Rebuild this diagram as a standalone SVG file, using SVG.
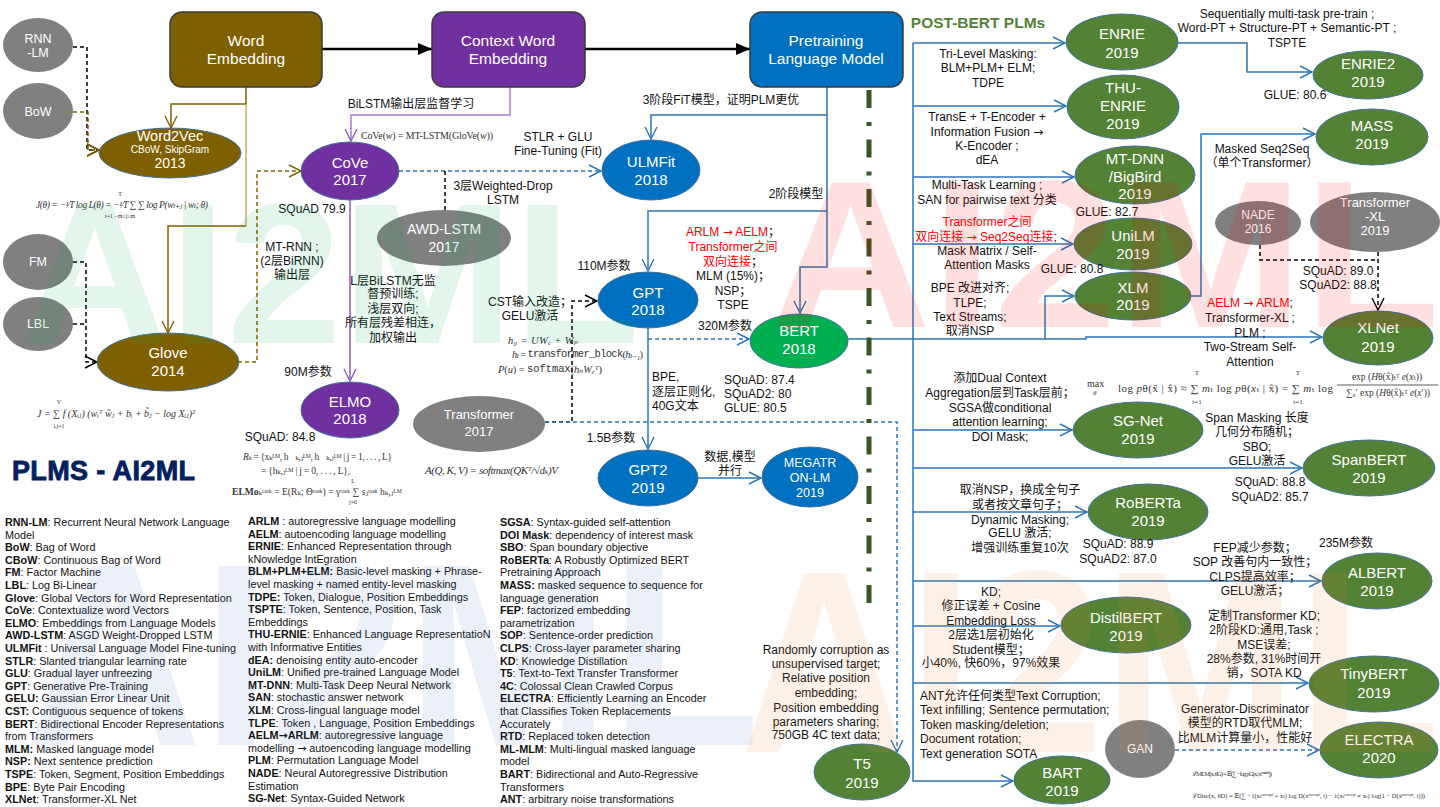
<svg xmlns="http://www.w3.org/2000/svg" width="1440" height="807" viewBox="0 0 1440 807">
<defs>
<style>
text{font-family:"Liberation Sans","Noto Sans CJK SC",sans-serif;}
.c{text-anchor:middle;dominant-baseline:central;}
.s{dominant-baseline:central;}
.hd{font-size:15.5px;fill:#fff;}
.n{font-size:15px;fill:#fff;}
.ns{font-size:12.5px;fill:#fff;}
.a{font-size:12px;fill:#111;}
.r{fill:#FF0000;}
.ar{font-family:"DejaVu Sans",sans-serif;}
.lg{font-size:10.8px;fill:#111;dominant-baseline:central;}
.b{font-weight:bold;}
.f{font-family:"Liberation Serif","DejaVu Serif",serif;fill:#333;}
.wm{font-weight:bold;font-family:"Liberation Sans",sans-serif;}
.gr{fill:#808080;}
.gn{fill:#548235;stroke:#41719C;stroke-width:1;}
.bl{fill:#0070C0;stroke:#41719C;stroke-width:1;}
.pu{fill:#7030A0;stroke:#41719C;stroke-width:1;}
.br{fill:#7F6000;stroke:#41719C;stroke-width:1;}
.bt{fill:#00B050;stroke:#41719C;stroke-width:1;}
.box{stroke:#3A3A3A;stroke-width:1.5;}
.ln{fill:none;stroke-width:1.5;}
.lb{stroke:#2E75B6;}
.dash{stroke-dasharray:4 3;}
</style>
<marker id="mb" markerUnits="userSpaceOnUse" markerWidth="14" markerHeight="14" refX="12" refY="6" orient="auto" overflow="visible"><path d="M0,0 L12,6 L0,12" fill="none" stroke="#2E75B6" stroke-width="1.4"/></marker>
<marker id="mp" markerUnits="userSpaceOnUse" markerWidth="14" markerHeight="14" refX="12" refY="6" orient="auto" overflow="visible"><path d="M0,0 L12,6 L0,12" fill="none" stroke="#8E5CC8" stroke-width="1.4"/></marker>
<marker id="mr" markerUnits="userSpaceOnUse" markerWidth="14" markerHeight="14" refX="12" refY="6" orient="auto" overflow="visible"><path d="M0,0 L12,6 L0,12" fill="none" stroke="#7F6000" stroke-width="1.4"/></marker>
<marker id="mk" markerUnits="userSpaceOnUse" markerWidth="14" markerHeight="14" refX="12" refY="6" orient="auto" overflow="visible"><path d="M0,0 L12,6 L0,12" fill="none" stroke="#000" stroke-width="1.4"/></marker>
<marker id="ab" markerUnits="userSpaceOnUse" markerWidth="16" markerHeight="12" refX="14" refY="6" orient="auto" overflow="visible"><path d="M0,0 L14,6 L0,12 Z" fill="#000"/></marker>
</defs>
<rect width="1440" height="807" fill="#fff"/>

<g id="connectors">
<line x1="322" y1="49" x2="432" y2="49" stroke="#000" stroke-width="2.5" marker-end="url(#ab)"/>
<line x1="585" y1="49" x2="750" y2="49" stroke="#000" stroke-width="2.5" marker-end="url(#ab)"/>
<path class="ln dash" stroke="#000" d="M73,47 H87 V150 H99" marker-end="url(#mk)"/>
<path class="ln dash" stroke="#7F6000" d="M73,112 H88 V150 H99" marker-end="url(#mr)"/>
<path class="ln dash" stroke="#000" d="M73,262 H86 V362 H97" marker-end="url(#mk)"/>
<path class="ln dash" stroke="#000" d="M73,324 H86"/>
<path class="ln" stroke="#7F6000" d="M246,87 V104 H171 V128" marker-end="url(#mr)"/>
<path class="ln" stroke="#C4AC72" d="M246,104 V226"/>
<path class="ln" stroke="#7F6000" d="M246,226 H168 V333" marker-end="url(#mr)"/>
<path class="ln dash" stroke="#7F6000" d="M238,362 H257 V171 H301" marker-end="url(#mr)"/>
<path class="ln" stroke="#A67DD6" d="M510,87 V115 H351 V141" marker-end="url(#mp)"/>
<path class="ln" stroke="#8E5CC8" d="M350,200 V381" marker-end="url(#mp)"/>
<path class="ln lb dash" d="M399,171 H601" marker-end="url(#mb)"/>
<path class="ln dash" stroke="#000" d="M445,210 V171"/>
<path class="ln lb" d="M827,87 V267 H800 V313" marker-end="url(#mb)"/>
<path class="ln lb" d="M827,115 H651 V139" marker-end="url(#mb)"/>
<path class="ln lb" d="M827,211 H648 V271" marker-end="url(#mb)"/>
<path class="ln lb" d="M648,328 V449" marker-end="url(#mb)"/>
<path class="ln lb dash" d="M648,339 H749" marker-end="url(#mb)"/>
<path class="ln dash" stroke="#000" d="M545,422 H572 V301 H597" marker-end="url(#mk)"/>
<path class="ln lb dash" d="M545,422 H897 V752" marker-end="url(#mb)"/>
<path class="ln lb" d="M698,478 H761" marker-end="url(#mb)"/>
<path class="ln lb" stroke-width="2" d="M848,339 H1045 V296 H1074" marker-end="url(#mb)"/>
<path class="ln lb" stroke-width="2" d="M913,43 V781 H1013" marker-end="url(#mb)"/>
<path class="ln lb" d="M913,43 H1065" marker-end="url(#mb)"/>
<path class="ln lb" d="M913,106 H1066" marker-end="url(#mb)"/>
<path class="ln lb" d="M913,177 H1074" marker-end="url(#mb)"/>
<path class="ln lb" d="M913,244 H1073" marker-end="url(#mb)"/>
<path class="ln lb" d="M913,430 H1072" marker-end="url(#mb)"/>
<path class="ln lb" d="M913,468 H1302" marker-end="url(#mb)"/>
<path class="ln lb" d="M913,512 H1087" marker-end="url(#mb)"/>
<path class="ln lb" d="M913,581 H1321" marker-end="url(#mb)"/>
<path class="ln lb" d="M913,626 H1060" marker-end="url(#mb)"/>
<path class="ln lb" d="M913,683 H1308" marker-end="url(#mb)"/>
<path class="ln lb" d="M1045,339 H1086 V337 H1322" marker-end="url(#mb)"/>
<path class="ln lb" d="M1190,296 H1201 V134 H1315" marker-end="url(#mb)"/>
<path class="ln lb" d="M1178,43 H1247 V72 H1312" marker-end="url(#mb)"/>
<path class="ln dash" stroke="#000" d="M1260,245 V260 H1378"/>
<path class="ln dash" stroke="#000" d="M1378,252 V310" marker-end="url(#mk)"/>
<path class="ln lb dash" d="M1175,750 H1319" marker-end="url(#mb)"/>
<path d="M869,90 V603" fill="none" stroke="#375623" stroke-width="5" stroke-dasharray="18 14 4 13.5"/>
</g>

<g id="word-embedding"><rect class="box" x="170" y="12" width="152" height="75" rx="12" fill="#7F6000"/><text class="c hd" x="246" y="40">Word</text><text class="c hd" x="246" y="58">Embedding</text></g>
<g id="context-word-embedding"><rect class="box" x="432" y="12" width="153" height="75" rx="12" fill="#7030A0"/><text class="c hd" x="508" y="40">Context Word</text><text class="c hd" x="508" y="58">Embedding</text></g>
<g id="pretraining-lm"><rect class="box" x="750" y="12" width="153" height="75" rx="12" fill="#0070C0"/><text class="c hd" x="826" y="40">Pretraining</text><text class="c hd" x="826" y="58">Language Model</text></g>

<g id="rnn-lm"><ellipse class="gr" cx="38" cy="45" rx="35" ry="27"/><text class="c ns" x="38" y="39">RNN</text><text class="c ns" x="38" y="53">-LM</text></g>
<g id="bow"><ellipse class="gr" cx="38" cy="111" rx="35" ry="28"/><text class="c ns" x="38" y="112">BoW</text></g>
<g id="fm"><ellipse class="gr" cx="38" cy="262" rx="35" ry="28"/><text class="c ns" x="38" y="262">FM</text></g>
<g id="lbl"><ellipse class="gr" cx="38" cy="324" rx="35" ry="27"/><text class="c ns" x="38" y="324">LBL</text></g>
<g id="word2vec"><ellipse class="br" cx="170" cy="153" rx="71" ry="25"/><text class="c" x="170" y="136" style="font-size:14.5px;fill:#fff">Word2Vec</text><text class="c" x="170" y="149" style="font-size:10px;fill:#fff">CBoW, SkipGram</text><text class="c" x="170" y="163" style="font-size:14px;fill:#fff">2013</text></g>
<g id="glove"><ellipse class="br" cx="168" cy="362" rx="71" ry="29"/><text class="c n" x="168" y="352">Glove</text><text class="c n" x="168" y="370">2014</text></g>
<g id="cove"><ellipse class="pu" cx="350" cy="171" rx="49" ry="29"/><text class="c n" x="350" y="162">CoVe</text><text class="c n" x="350" y="179">2017</text></g>
<g id="elmo"><ellipse class="pu" cx="350" cy="410" rx="49" ry="28"/><text class="c n" x="350" y="401">ELMO</text><text class="c n" x="350" y="418">2018</text></g>
<g id="awd-lstm"><ellipse class="gr" cx="444" cy="238" rx="67" ry="28"/><text class="c" x="444" y="229" style="font-size:14px;fill:#fff">AWD-LSTM</text><text class="c" x="444" y="247" style="font-size:14px;fill:#fff">2017</text></g>
<g id="transformer"><ellipse class="gr" cx="479" cy="424" rx="66" ry="28"/><text class="c" x="479" y="414" style="font-size:13px;fill:#fff">Transformer</text><text class="c" x="479" y="431" style="font-size:13px;fill:#fff">2017</text></g>
<g id="ulmfit"><ellipse class="bl" cx="651" cy="170" rx="49" ry="30"/><text class="c n" x="651" y="161">ULMFit</text><text class="c n" x="651" y="179">2018</text></g>
<g id="gpt"><ellipse class="bl" cx="648" cy="300" rx="50" ry="28"/><text class="c n" x="648" y="292">GPT</text><text class="c n" x="648" y="309">2018</text></g>
<g id="gpt2"><ellipse class="bl" cx="648" cy="478" rx="50" ry="28"/><text class="c n" x="648" y="469">GPT2</text><text class="c n" x="648" y="487">2019</text></g>
<g id="megatron"><ellipse class="bl" cx="810" cy="477" rx="48" ry="30"/><text class="c ns" x="810" y="463">MEGATR</text><text class="c ns" x="810" y="478">ON-LM</text><text class="c ns" x="810" y="493">2019</text></g>
<g id="bert"><ellipse class="bt" cx="799" cy="341" rx="49" ry="27"/><text class="c n" x="799" y="330">BERT</text><text class="c n" x="799" y="348">2018</text></g>
<g id="enrie"><ellipse class="gn" cx="1122" cy="42" rx="56" ry="28"/><text class="c n" x="1122" y="33">ENRIE</text><text class="c n" x="1122" y="52">2019</text></g>
<g id="thu-enrie"><ellipse class="gn" cx="1123" cy="107" rx="56" ry="32"/><text class="c n" x="1123" y="87">THU-</text><text class="c n" x="1123" y="105">ENRIE</text><text class="c n" x="1123" y="123">2019</text></g>
<g id="mt-dnn"><ellipse class="gn" cx="1135" cy="175" rx="60" ry="29"/><text class="c n" x="1135" y="158">MT-DNN</text><text class="c n" x="1135" y="176">/BigBird</text><text class="c n" x="1135" y="193">2019</text></g>
<g id="unilm"><ellipse class="gn" cx="1133" cy="244" rx="59" ry="26"/><text class="c n" x="1133" y="235">UniLM</text><text class="c n" x="1133" y="253">2019</text></g>
<g id="xlm"><ellipse class="gn" cx="1133" cy="296" rx="58" ry="24"/><text class="c n" x="1133" y="287">XLM</text><text class="c n" x="1133" y="304">2019</text></g>
<g id="enrie2"><ellipse class="gn" cx="1368" cy="75" rx="55" ry="24"/><text class="c n" x="1368" y="63">ENRIE2</text><text class="c n" x="1368" y="81">2019</text></g>
<g id="mass"><ellipse class="gn" cx="1372" cy="137" rx="56" ry="28"/><text class="c n" x="1372" y="125">MASS</text><text class="c n" x="1372" y="143">2019</text></g>
<g id="nade"><ellipse class="gr" cx="1258" cy="223" rx="43" ry="22"/><text class="c" x="1258" y="215" style="font-size:12px;fill:#fff">NADE</text><text class="c" x="1258" y="229" style="font-size:12px;fill:#fff">2016</text></g>
<g id="transformer-xl"><ellipse class="gr" cx="1375" cy="222" rx="65" ry="30"/><text class="c" x="1375" y="202" style="font-size:13px;fill:#fff">Transformer</text><text class="c" x="1375" y="216" style="font-size:13px;fill:#fff">-XL</text><text class="c" x="1375" y="230" style="font-size:13px;fill:#fff">2019</text></g>
<g id="xlnet"><ellipse class="gn" cx="1378" cy="338" rx="55" ry="27"/><text class="c n" x="1378" y="327">XLNet</text><text class="c n" x="1378" y="346">2019</text></g>
<g id="sg-net"><ellipse class="gn" cx="1138" cy="430" rx="65" ry="28"/><text class="c n" x="1138" y="420">SG-Net</text><text class="c n" x="1138" y="438">2019</text></g>
<g id="spanbert"><ellipse class="gn" cx="1369" cy="468" rx="66" ry="28"/><text class="c n" x="1369" y="459">SpanBERT</text><text class="c n" x="1369" y="477">2019</text></g>
<g id="roberta"><ellipse class="gn" cx="1148" cy="512" rx="60" ry="28"/><text class="c n" x="1148" y="502">RoBERTa</text><text class="c n" x="1148" y="520">2019</text></g>
<g id="albert"><ellipse class="gn" cx="1377" cy="581" rx="55" ry="28"/><text class="c n" x="1377" y="572">ALBERT</text><text class="c n" x="1377" y="590">2019</text></g>
<g id="distilbert"><ellipse class="gn" cx="1126" cy="625" rx="65" ry="28"/><text class="c n" x="1126" y="617">DistilBERT</text><text class="c n" x="1126" y="635">2019</text></g>
<g id="tinybert"><ellipse class="gn" cx="1374" cy="684" rx="65" ry="28"/><text class="c n" x="1374" y="673">TinyBERT</text><text class="c n" x="1374" y="692">2019</text></g>
<g id="electra"><ellipse class="gn" cx="1379" cy="750" rx="59" ry="28"/><text class="c n" x="1379" y="739">ELECTRA</text><text class="c n" x="1379" y="757">2020</text></g>
<g id="gan"><ellipse class="gr" cx="1140" cy="749" rx="35" ry="29"/><text class="c" x="1140" y="749" style="font-size:12px;fill:#fff">GAN</text></g>
<g id="bart"><ellipse class="gn" cx="1062" cy="780" rx="48" ry="24"/><text class="c n" x="1062" y="772">BART</text><text class="c n" x="1062" y="790">2019</text></g>
<g id="t5"><ellipse class="gn" cx="862" cy="772" rx="48" ry="28"/><text class="c n" x="862" y="763">T5</text><text class="c n" x="862" y="782">2019</text></g>

<g id="labels">
<text class="c a" x="411" y="104">BiLSTM输出层监督学习</text>
<text class="f s" x="361" y="135" style="font-size:10px" textLength="132">CoVe(<tspan font-style="italic">w</tspan>) = MT-LSTM(GloVe(<tspan font-style="italic">w</tspan>))</text>
<text class="c a" x="558" y="137">STLR + GLU</text>
<text class="c a" x="558" y="151">Fine-Tuning (Fit)</text>
<text class="c a" x="503" y="186">3层Weighted-Drop</text>
<text class="c a" x="503" y="200">LSTM</text>
<text class="c a" x="312" y="209">SQuAD 79.9</text>
<text class="c a" x="292" y="247">MT-RNN ;</text>
<text class="c a" x="292" y="261">(2层BiRNN)</text>
<text class="c a" x="292" y="275">输出层</text>
<text class="c a" x="393" y="281">L层BiLSTM无监</text>
<text class="c a" x="393" y="294">督预训练;</text>
<text class="c a" x="393" y="309">浅层双向;</text>
<text class="c a" x="393" y="323">所有层残差相连，</text>
<text class="c a" x="393" y="338">加权输出</text>
<text class="c a" x="308" y="372">90M参数</text>
<text class="c a" x="280" y="437">SQuAD: 84.8</text>
<text class="c a" x="721" y="100">3阶段FiT模型，证明PLM更优</text>
<text class="c a" x="796" y="194">2阶段模型</text>
<text class="c a r" x="733" y="232">ARLM <tspan class="ar">→</tspan> AELM<tspan fill="#111">；</tspan></text>
<text class="c a r" x="733" y="247">Transformer之间</text>
<text class="c a r" x="733" y="262">双向连接<tspan fill="#111">；</tspan></text>
<text class="c a" x="733" y="276">MLM (15%)；</text>
<text class="c a" x="733" y="291">NSP；</text>
<text class="c a" x="733" y="305">TSPE</text>
<text class="c a" x="604" y="266">110M参数</text>
<text class="c a" x="725" y="326">320M参数</text>
<text class="c a" x="530" y="302">CST输入改造；</text>
<text class="c a" x="530" y="316">GELU激活</text>
<text class="f s" x="508" y="340" style="font-size:10.5px;font-style:italic" textLength="70">h₀ = UWₑ + Wₚ</text>
<text class="f s" x="512" y="354" style="font-size:10.5px" textLength="131"><tspan font-style="italic">hₗ</tspan> = <tspan font-family="Liberation Mono, monospace">transformer_block</tspan>(<tspan font-style="italic">hₗ₋₁</tspan>)</text>
<text class="f s" x="498" y="369" style="font-size:10.5px" textLength="104"><tspan font-style="italic">P</tspan>(<tspan font-style="italic">u</tspan>) = <tspan font-family="Liberation Mono, monospace">softmax</tspan>(<tspan font-style="italic">hₙWₑᵀ</tspan>)</text>
<text class="a s" x="652" y="377">BPE,</text>
<text class="a s" x="652" y="392">逐层正则化,</text>
<text class="a s" x="652" y="406">40G文本</text>
<text class="a s" x="724" y="380">SQuAD: 87.4</text>
<text class="a s" x="724" y="394">SQuAD2: 80</text>
<text class="a s" x="724" y="408">GLUE: 80.5</text>
<text class="c a" x="611" y="438">1.5B参数</text>
<text class="c a" x="730" y="457">数据,模型</text>
<text class="c a" x="730" y="471">并行</text>
<text class="f s" x="425" y="470" style="font-size:11px;font-style:italic" textLength="133">A(Q, K, V) = softmax(QKᵀ/√dₖ)V</text>
<text class="f s" x="243" y="457" style="font-size:9.5px" textLength="149"><tspan font-style="italic">Rₖ</tspan>  =  {xₖᴸᴹ, h⃗ₖ,ⱼᴸᴹ, h⃖ₖ,ⱼᴸᴹ | j = 1, . . . , L}</text>
<text class="f s" x="261" y="471" style="font-size:9.5px" textLength="89">=  {hₖ,ⱼᴸᴹ | j = 0, . . . , L},</text>
<text class="f s" x="232" y="492" style="font-size:9.5px" textLength="170"><tspan font-weight="bold">ELMo</tspan>ₖᵗᵃˢᵏ = E(Rₖ; Θᵗᵃˢᵏ) = γᵗᵃˢᵏ ∑ sⱼᵗᵃˢᵏ hₖ,ⱼᴸᴹ</text>
<text class="f c" x="353" y="481" style="font-size:6px">L</text>
<text class="f c" x="353" y="502" style="font-size:6px">j=0</text>
<text class="f s" x="36" y="205" style="font-size:9.5px;font-style:italic" textLength="172">J(θ) = −¹⁄T log L(θ) = −¹⁄T ∑ ∑ log P(wₜ₊ⱼ | wₜ; θ)</text>
<text class="f c" x="120" y="194" style="font-size:6px">T</text>
<text class="f c" x="120" y="216" style="font-size:6px">t=1  −m≤j≤m</text>
<text class="f s" x="37" y="413" style="font-size:10px;font-style:italic" textLength="158">J = ∑ f (Xᵢⱼ) (wᵢᵀ w̃ⱼ + bᵢ + b̃ⱼ − log Xᵢⱼ)²</text>
<text class="f c" x="59" y="402" style="font-size:6px">V</text>
<text class="f c" x="59" y="426" style="font-size:6px">i,j=1</text>
<text x="12" y="480" style="font-size:27px;font-weight:bold;fill:#002060;stroke:#002060;stroke-width:0.8" textLength="183">PLMS - AI2ML</text>

<text x="978" y="22" class="c b" style="font-size:15.5px;fill:#548235">POST-BERT PLMs</text>
<text class="c a" x="988" y="54">Tri-Level Masking:</text>
<text class="c a" x="988" y="68">BLM+PLM+ ELM;</text>
<text class="c a" x="988" y="83">TDPE</text>
<text class="c a" x="987" y="117">TransE + T-Encoder +</text>
<text class="c a" x="987" y="132">Information Fusion <tspan class="ar">→</tspan></text>
<text class="c a" x="987" y="146">K-Encoder ;</text>
<text class="c a" x="987" y="160">dEA</text>
<text class="c a" x="987" y="185">Multi-Task Learning ;</text>
<text class="c a" x="987" y="200">SAN for pairwise text 分类</text>
<text class="c a" x="1107" y="212">GLUE: 82.7</text>
<text class="c a r" x="987" y="222">Transformer之间</text>
<text class="c a r" x="986" y="237">双向连接 <tspan class="ar">→</tspan> Seq2Seq连接<tspan fill="#111">;</tspan></text>
<text class="c a" x="987" y="251">Mask Matrix / Self-</text>
<text class="c a" x="987" y="265">Attention Masks</text>
<text class="c a" x="1072" y="269">GLUE: 80.8</text>
<text class="c a" x="970" y="288">BPE 改进对齐;</text>
<text class="c a" x="970" y="303">TLPE;</text>
<text class="c a" x="970" y="317">Text Streams;</text>
<text class="c a" x="970" y="331">取消NSP</text>
<text class="c a" x="1287" y="14">Sequentially multi-task pre-train ;</text>
<text class="c a" x="1287" y="28">Word-PT + Structure-PT + Semantic-PT ;</text>
<text class="c a" x="1287" y="43">TSPTE</text>
<text class="c a" x="1295" y="95">GLUE: 80.6</text>
<text class="c a" x="1262" y="149">Masked Seq2Seq</text>
<text class="c a" x="1262" y="163">（单个Transformer）</text>
<text class="c a" x="1338" y="271">SQuAD: 89.0</text>
<text class="c a" x="1338" y="285">SQuAD2: 88.8</text>
<text class="c a r" x="1250" y="303">AELM <tspan class="ar">→</tspan> ARLM<tspan fill="#111">;</tspan></text>
<text class="c a" x="1250" y="318">Transformer-XL ;</text>
<text class="c a" x="1250" y="333">PLM ;</text>
<text class="c a" x="1250" y="347">Two-Stream Self-</text>
<text class="c a" x="1250" y="362">Attention</text>
<text class="f s" x="1087" y="383" style="font-size:10px">max</text>
<text class="f s" x="1093" y="393" style="font-size:7px;font-style:italic">θ</text>
<text class="f s" x="1118" y="388" style="font-size:11px" textLength="215">log <tspan font-style="italic">p</tspan>θ(x̄ | x̂) ≈ ∑ <tspan font-style="italic">m</tspan>ₜ log <tspan font-style="italic">p</tspan>θ(<tspan font-style="italic">x</tspan>ₜ | x̂) = ∑ <tspan font-style="italic">m</tspan>ₜ log</text>
<text class="f c" x="1197" y="373" style="font-size:7px">T</text>
<text class="f c" x="1197" y="402" style="font-size:7px">t=1</text>
<text class="f c" x="1298" y="373" style="font-size:7px">T</text>
<text class="f c" x="1298" y="402" style="font-size:7px">t=1</text>
<text class="f c" x="1387" y="377" style="font-size:9.5px">exp (<tspan font-style="italic">H</tspan>θ(x̂)ₜᵀ <tspan font-style="italic">e</tspan>(<tspan font-style="italic">x</tspan>ₜ))</text>
<line x1="1337" y1="385" x2="1438" y2="385" stroke="#333" stroke-width="0.8"/>
<text class="f c" x="1388" y="393" style="font-size:9.5px">∑ₓ′ exp (<tspan font-style="italic">H</tspan>θ(x̂)ₜᵀ <tspan font-style="italic">e</tspan>(<tspan font-style="italic">x</tspan>′))</text>
<text class="c a" x="1000" y="378">添加Dual Context</text>
<text class="c a" x="1000" y="393">Aggregation层到Task层前；</text>
<text class="c a" x="1000" y="408">SGSA做conditional</text>
<text class="c a" x="1000" y="422">attention learning;</text>
<text class="c a" x="1000" y="437">DOI Mask;</text>
<text class="c a" x="1257" y="418">Span Masking 长度</text>
<text class="c a" x="1257" y="432">几何分布随机；</text>
<text class="c a" x="1257" y="447">SBO;</text>
<text class="c a" x="1257" y="461">GELU激活</text>
<text class="c a" x="1270" y="482">SQuAD: 88.8</text>
<text class="c a" x="1270" y="497">SQuAD2: 85.7</text>
<text class="c a" x="1020" y="490">取消NSP，换成全句子</text>
<text class="c a" x="1020" y="505">或者按文章句子；</text>
<text class="c a" x="1020" y="520">Dynamic Masking;</text>
<text class="c a" x="1020" y="533">GELU 激活;</text>
<text class="c a" x="1020" y="548">增强训练重复10次</text>
<text class="c a" x="1118" y="544">SQuAD: 88.9</text>
<text class="c a" x="1118" y="559">SQuAD2: 87.0</text>
<text class="c a" x="1255" y="548">FEP减少参数；</text>
<text class="c a" x="1255" y="562">SOP 改善句内一致性；</text>
<text class="c a" x="1255" y="577">CLPS提高效率；</text>
<text class="c a" x="1255" y="591">GELU激活；</text>
<text class="c a" x="1346" y="543">235M参数</text>
<text class="c a" x="991" y="592">KD;</text>
<text class="c a" x="991" y="606">修正误差 + Cosine</text>
<text class="c a" x="991" y="621">Embedding Loss</text>
<text class="c a" x="991" y="635">2层选1层初始化</text>
<text class="c a" x="991" y="650">Student模型；</text>
<text class="c a" x="991" y="663">小40%, 快60%，97%效果</text>
<text class="c a" x="1264" y="616">定制Transformer KD;</text>
<text class="c a" x="1264" y="630">2阶段KD:通用,Task ;</text>
<text class="c a" x="1264" y="645">MSE误差;</text>
<text class="c a" x="1264" y="659">28%参数, 31%时间开</text>
<text class="c a" x="1264" y="673">销，SOTA KD</text>
<text class="c a" x="826" y="650">Randomly corruption as</text>
<text class="c a" x="826" y="664">unsupervised target;</text>
<text class="c a" x="826" y="678">Relative position</text>
<text class="c a" x="826" y="693">embedding;</text>
<text class="c a" x="826" y="708">Position embedding</text>
<text class="c a" x="826" y="722">parameters sharing;</text>
<text class="c a" x="826" y="735">750GB 4C text data;</text>
<text class="a s" x="920" y="696">ANT允许任何类型Text Corruption;</text>
<text class="a s" x="920" y="710">Text infilling; Sentence permutation;</text>
<text class="a s" x="920" y="725">Token masking/deletion;</text>
<text class="a s" x="920" y="739">Document rotation;</text>
<text class="a s" x="920" y="754">Text generation SOTA</text>
<text class="c a" x="1245" y="709">Generator-Discriminator</text>
<text class="c a" x="1245" y="723">模型的RTD取代MLM;</text>
<text class="c a" x="1245" y="738">比MLM计算量小，性能好</text>
<text class="f s" x="1192" y="773" style="font-size:6.5px" textLength="80">ℒMLM(x, θG) = 𝔼(∑ −log pG(xᵢ | xᵐᵃˢᵏᵉᵈ))</text>
<text class="f s" x="1192" y="795" style="font-size:6.5px" textLength="233">ℒDisc(x, θD) = 𝔼(∑ −1(xₜᶜᵒʳʳᵘᵖᵗ = xₜ) log D(xᶜᵒʳʳᵘᵖᵗ, t) − 1(xₜᶜᵒʳʳᵘᵖᵗ ≠ xₜ) log(1 − D(xᶜᵒʳʳᵘᵖᵗ, t)))</text>
</g>

<g id="legend">
<text class="lg" x="5" y="522"><tspan class="b">RNN-LM</tspan>: Recurrent Neural Network Language</text>
<text class="lg" x="5" y="534.6">Model</text>
<text class="lg" x="5" y="547.2"><tspan class="b">BoW</tspan>: Bag of Word</text>
<text class="lg" x="5" y="559.8"><tspan class="b">CBoW</tspan>: Continuous Bag of Word</text>
<text class="lg" x="5" y="572.4"><tspan class="b">FM</tspan>: Factor Machine</text>
<text class="lg" x="5" y="585"><tspan class="b">LBL</tspan>: Log Bi-Linear</text>
<text class="lg" x="5" y="597.6"><tspan class="b">Glove</tspan>: Global Vectors for Word Representation</text>
<text class="lg" x="5" y="610.2"><tspan class="b">CoVe</tspan>: Contextualize word Vectors</text>
<text class="lg" x="5" y="622.8"><tspan class="b">ELMO</tspan>: Embeddings from Language Models</text>
<text class="lg" x="5" y="635.4"><tspan class="b">AWD-LSTM</tspan>:  ASGD Weight-Dropped LSTM</text>
<text class="lg" x="5" y="648"><tspan class="b">ULMFit</tspan> : Universal Language Model Fine-tuning</text>
<text class="lg" x="5" y="660.6"><tspan class="b">STLR</tspan>: Slanted triangular learning rate</text>
<text class="lg" x="5" y="673.2"><tspan class="b">GLU</tspan>: Gradual layer unfreezing</text>
<text class="lg" x="5" y="685.8"><tspan class="b">GPT</tspan>: Generative Pre-Training</text>
<text class="lg" x="5" y="698.4"><tspan class="b">GELU:</tspan>  Gaussian Error Linear Unit</text>
<text class="lg" x="5" y="711"><tspan class="b">CST:</tspan>  Contiguous sequence of tokens</text>
<text class="lg" x="5" y="723.6"><tspan class="b">BERT</tspan>: Bidirectional Encoder Representations</text>
<text class="lg" x="5" y="736.2">from Transformers</text>
<text class="lg" x="5" y="748.8"><tspan class="b">MLM:</tspan> Masked language model</text>
<text class="lg" x="5" y="761.4"><tspan class="b">NSP:</tspan> Next sentence prediction</text>
<text class="lg" x="5" y="774"><tspan class="b">TSPE</tspan>: Token, Segment, Position Embeddings</text>
<text class="lg" x="5" y="786.6"><tspan class="b">BPE</tspan>: Byte Pair Encoding</text>
<text class="lg" x="5" y="799.2"><tspan class="b">XLNet</tspan>: Transformer-XL Net</text>

<text class="lg" x="248" y="521"><tspan class="b">ARLM</tspan> : autoregressive language modelling</text>
<text class="lg" x="248" y="533.6"><tspan class="b">AELM</tspan>: autoencoding language modelling</text>
<text class="lg" x="248" y="546.2"><tspan class="b">ERNIE</tspan>: Enhanced Representation through</text>
<text class="lg" x="248" y="558.8">kNowledge IntEgration</text>
<text class="lg" x="248" y="571.4"><tspan class="b">BLM+PLM+ELM:</tspan> Basic-level masking + Phrase-</text>
<text class="lg" x="248" y="584">level masking + named entity-level masking</text>
<text class="lg" x="248" y="596.6"><tspan class="b">TDPE:</tspan> Token, Dialogue, Position Embeddings</text>
<text class="lg" x="248" y="609.2"><tspan class="b">TSPTE</tspan>: Token, Sentence, Position, Task</text>
<text class="lg" x="248" y="621.8">Embeddings</text>
<text class="lg" x="248" y="634.4"><tspan class="b">THU-ERNIE</tspan>: Enhanced Language RepresentatioN</text>
<text class="lg" x="248" y="647">with Informative Entities</text>
<text class="lg" x="248" y="659.6"><tspan class="b">dEA:</tspan> denoising entity auto-encoder</text>
<text class="lg" x="248" y="672.2"><tspan class="b">UniLM</tspan>:  Unified pre-trained  Language  Model</text>
<text class="lg" x="248" y="684.8"><tspan class="b">MT-DNN</tspan>: Multi-Task Deep Neural Network</text>
<text class="lg" x="248" y="697.4"><tspan class="b">SAN</tspan>: stochastic answer network</text>
<text class="lg" x="248" y="710"><tspan class="b">XLM</tspan>: Cross-lingual language model</text>
<text class="lg" x="248" y="722.6"><tspan class="b">TLPE</tspan>: Token , Language, Position Embeddings</text>
<text class="lg" x="248" y="735.2"><tspan class="b">AELM<tspan class="ar">→</tspan>ARLM</tspan>: autoregressive language</text>
<text class="lg" x="248" y="747.8">modelling <tspan class="ar">→</tspan> autoencoding language modelling</text>
<text class="lg" x="248" y="760.4"><tspan class="b">PLM</tspan>: Permutation Language Model</text>
<text class="lg" x="248" y="773"><tspan class="b">NADE</tspan>: Neural Autoregressive Distribution</text>
<text class="lg" x="248" y="785.6">Estimation</text>
<text class="lg" x="248" y="798.2"><tspan class="b">SG-Net</tspan>: Syntax-Guided Network</text>

<text class="lg" x="500" y="522"><tspan class="b">SGSA</tspan>: Syntax-guided self-attention</text>
<text class="lg" x="500" y="534.6"><tspan class="b">DOI Mask</tspan>: dependency of interest mask</text>
<text class="lg" x="500" y="547.2"><tspan class="b">SBO</tspan>: Span boundary objective</text>
<text class="lg" x="500" y="559.8"><tspan class="b">RoBERTa</tspan>: A Robustly Optimized BERT</text>
<text class="lg" x="500" y="572.4">Pretraining Approach</text>
<text class="lg" x="500" y="585"><tspan class="b">MASS:</tspan>  masked sequence to sequence for</text>
<text class="lg" x="500" y="597.6">language generation</text>
<text class="lg" x="500" y="610.2"><tspan class="b">FEP</tspan>: factorized embedding</text>
<text class="lg" x="500" y="622.8">parametrization</text>
<text class="lg" x="500" y="635.4"><tspan class="b">SOP</tspan>: Sentence-order prediction</text>
<text class="lg" x="500" y="648"><tspan class="b">CLPS</tspan>: Cross-layer parameter sharing</text>
<text class="lg" x="500" y="660.6"><tspan class="b">KD</tspan>: Knowledge Distillation</text>
<text class="lg" x="500" y="673.2"><tspan class="b">T5</tspan>: Text-to-Text Transfer Transformer</text>
<text class="lg" x="500" y="685.8"><tspan class="b">4C</tspan>:  Colossal Clean Crawled Corpus</text>
<text class="lg" x="500" y="698.4"><tspan class="b">ELECTRA</tspan>: Efficiently Learning an Encoder</text>
<text class="lg" x="500" y="711">that Classifies Token Replacements</text>
<text class="lg" x="500" y="723.6">Accurately</text>
<text class="lg" x="500" y="736.2"><tspan class="b">RTD</tspan>: Replaced token detection</text>
<text class="lg" x="500" y="748.8"><tspan class="b">ML-MLM</tspan>: Multi-lingual masked language</text>
<text class="lg" x="500" y="761.4">model</text>
<text class="lg" x="500" y="774"><tspan class="b">BART</tspan>: Bidirectional and Auto-Regressive</text>
<text class="lg" x="500" y="786.6">Transformers</text>
<text class="lg" x="500" y="799.2"><tspan class="b">ANT</tspan>: arbitrary noise transformations</text>
</g>

<g id="watermarks" style="pointer-events:none">
<text class="wm" x="20" y="343" style="font-size:200px;fill:#00B050;fill-opacity:0.11" textLength="620" lengthAdjust="spacingAndGlyphs">AI2ML</text>
<text class="wm" x="770" y="327" style="font-size:210px;fill:#FF0000;fill-opacity:0.12" textLength="670" lengthAdjust="spacingAndGlyphs">AI2ML</text>
<text class="wm" x="25" y="745" style="font-size:260px;fill:#4472C4;fill-opacity:0.1" textLength="735" lengthAdjust="spacingAndGlyphs">AI2ML</text>
<text class="wm" x="740" y="752" style="font-size:260px;fill:#ED7D31;fill-opacity:0.11" textLength="700" lengthAdjust="spacingAndGlyphs">AI2ML</text>
</g>
</svg>
